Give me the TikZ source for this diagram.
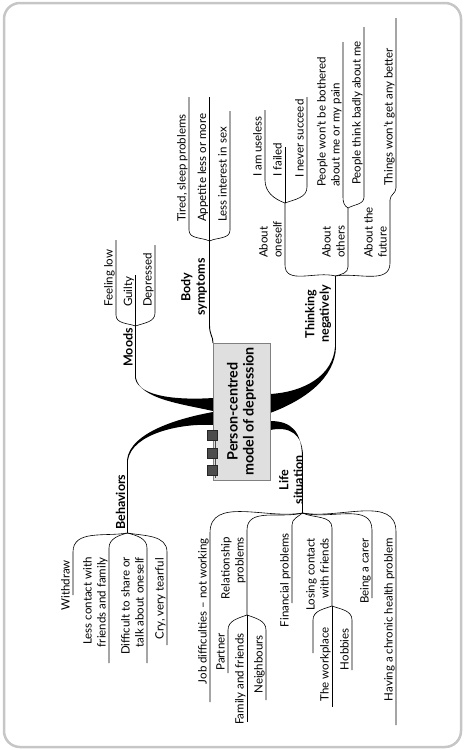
\documentclass[tikz,border=0pt]{standalone}
\usepackage{fontspec}
\setmainfont{Lato}

\begin{document}
\begin{tikzpicture}[x=1pt, y=1pt,
	leaf/.style={rotate=90, inner sep=0pt, text depth=2.5pt, font=\fontsize{11.5}{14}\selectfont},
	upleaf/.style={leaf, anchor=south west, align=left},
	downleaf/.style={leaf, anchor=south east, align=right},
	topic/.style={rotate=90, inner sep=0pt, align=center, font=\fontsize{12.5}{14.5}\selectfont\bfseries},
	rootbox/.style={rotate=90, draw=gray, fill=gray!25, line width=0.6pt, minimum width=137pt, minimum height=57pt, inner sep=0pt, align=center, font=\fontsize{14.3}{16}\selectfont\bfseries},
	tab/.style={draw=black!85, fill=black!70, minimum size=10pt, inner sep=0pt},
	twig/.style={line width=0.6pt},
	stem/.style={line width=0.9pt}]

	% frame
	\useasboundingbox (0,0) rectangle (465,-750);
	\draw[gray!45, line width=2.5pt, rounded corners=16pt] (4,-3) rectangle (461,-747);

	% junctions
	\coordinate (moods) at (135.5,-326);
	\coordinate (body) at (209.5,-241);
	\coordinate (think) at (335.5,-276);
	\coordinate (behav) at (127.5,-533);
	\coordinate (life) at (302.5,-513);
	\coordinate (oneself) at (285,-203);
	\coordinate (others) at (348,-208);
	\coordinate (future) at (390,-200);
	\coordinate (relat) at (247,-615);
	\coordinate (losing) at (332,-606);

	% main branches
	\fill (213,-398) .. controls (182,-400) and (139,-398) .. (135,-378) -- (136,-378) .. controls (140,-399) and (182,-404) .. (213,-411) -- cycle;
	\fill (213,-412) .. controls (180,-418) and (130,-432) .. (127,-460) -- (128,-460) .. controls (132,-434) and (180,-423) .. (213,-425) -- cycle;
	\fill (270,-394) .. controls (305,-392) and (333,-375) .. (335,-347) -- (336,-347) .. controls (335,-378) and (305,-400) .. (270,-413) -- cycle;
	\fill (270,-421) .. controls (292,-421) and (301,-432) .. (302,-455) -- (303,-455) .. controls (302,-434) and (290,-426) .. (270,-430) -- cycle;
	\draw[stem] (135.5,-378) -- (moods);
	\draw[stem] (127.5,-460) -- (behav);
	\draw[stem] (335.5,-347) -- (think);
	\draw[stem] (302.5,-455) -- (life);
	\draw[stem] (213,-343) .. controls (213,-336) and (209.5,-335) .. (209.5,-325) -- (body);

	% root
	\node[rootbox] (root) at (241.5,-411.5) {Person-centred\\model of depression};
	\draw[black!70] (215.5,-430) -- (215.5,-478);
	\node[tab] (taba) at (212,-435) {};
	\node[tab] (tabb) at (212,-453) {};
	\node[tab] (tabc) at (212,-470) {};

	% topics
	\node[topic, anchor=base east] (moodsl) at (132.5,-328) {Moods};
	\node[topic, anchor=base west] (behavl) at (125,-530) {Behaviors};
	\node[topic] (bodyl) at (194,-287) {Body\\symptoms};
	\node[topic] (thinkl) at (318,-314) {Thinking\\negatively};
	\node[topic] (lifel) at (291,-480) {Life\\situation};

	% body symptoms
	\draw[twig] (body) to[out=155, in=-90] (189,-230) -- (189,-97);
	\draw[twig] (body) -- (209.5,-97);
	\draw[twig] (body) to[out=25, in=-90] (230,-230) -- (230,-111);
	\node[upleaf] (tired) at (188.4,-222) {Tired, sleep problems};
	\node[upleaf] (appetite) at (208.9,-222) {Appetite less or more};
	\node[upleaf] (sex) at (229.4,-222) {Less interest in sex};

	% moods
	\draw[twig] (moods) to[out=160, in=-90] (116,-315) -- (116,-240);
	\draw[twig] (moods) -- (135.5,-275);
	\draw[twig] (moods) to[out=20, in=-90] (155,-313) -- (155,-245);
	\node[upleaf] (low) at (115.4,-307) {Feeling low};
	\node[upleaf] (guilty) at (134.9,-307) {Guilty};
	\node[upleaf] (depr) at (154.4,-307) {Depressed};

	% thinking negatively
	\draw[twig] (think) to[out=165, in=-90] (285,-265) -- (oneself);
	\draw[twig] (think) to[out=15, in=-90] (348,-267) -- (others);
	\draw[twig] (think) to[out=10, in=-90] (390,-263) -- (future);
	\draw[twig] (future) to[out=90, in=-90] (396,-188) -- (396,-18);
	\node[upleaf] (aboutself) at (284.4,-258) {About\\oneself};
	\node[upleaf] (aboutothers) at (347.4,-258) {About\\others};
	\node[upleaf] (aboutfuture) at (389.4,-258) {About the\\future};
	\node[upleaf] (better) at (395.4,-186) {Things won't get any better};

	\draw[twig] (oneself) to[out=160, in=-90] (265,-180) -- (265,-110);
	\draw[twig] (oneself) -- (285,-147);
	\draw[twig] (oneself) to[out=20, in=-90] (307,-187) -- (307,-97);
	\node[upleaf] (useless) at (264.4,-177) {I am useless};
	\node[upleaf] (failed) at (284.4,-177) {I failed};
	\node[upleaf] (succeed) at (306.4,-178) {I never succeed};

	\draw[twig] (others) to[out=150, in=-90] (343,-197) -- (343,-42);
	\draw[twig] (others) to[out=30, in=-90] (364,-197) -- (364,-27);
	\node[upleaf] (bothered) at (342.4,-187) {People won't be bothered\\about me or my pain};
	\node[upleaf] (badly) at (363.4,-185) {People think badly about me};

	% behaviors
	\draw[twig] (behav) to[out=190, in=90] (73,-552) -- (73,-595);
	\draw[twig] (behav) to[out=195, in=90] (109,-548) -- (109,-663);
	\draw[twig] (behav) to[out=-15, in=90] (147,-548) -- (147,-663);
	\draw[twig] (behav) to[out=-10, in=90] (167,-552) -- (167,-645);
	\node[downleaf] (withdraw) at (72.4,-560) {Withdraw};
	\node[downleaf] (lesscont) at (108.4,-557) {Less contact with\\friends and family};
	\node[downleaf] (share) at (146.4,-557) {Difficult to share or\\talk about oneself};
	\node[downleaf] (cry) at (166.4,-558) {Cry, very tearful};

	% life situation
	\draw[twig] (life) to[out=190, in=90] (210,-533) -- (210,-702);
	\draw[twig] (life) to[out=195, in=90] (247,-530) -- (relat);
	\draw[twig] (life) to[out=220, in=90] (292,-525) -- (292,-603);
	\draw[twig] (life) to[out=-25, in=90] (332,-528) -- (losing);
	\draw[twig] (life) to[out=-15, in=90] (372,-530) -- (372,-598);
	\draw[twig] (life) to[out=-10, in=90] (396,-532) -- (396,-725);
	\node[downleaf] (job) at (209.4,-538) {Job difficulties -- not working};
	\node[downleaf] (relation) at (246.4,-537) {Relationship\\problems};
	\node[downleaf] (financ) at (291.4,-533) {Financial problems};
	\node[downleaf] (contact) at (331.4,-538) {Losing contact\\with friends};
	\node[downleaf] (carer) at (371.4,-538) {Being a carer};
	\node[downleaf] (chronic) at (395.4,-538) {Having a chronic health problem};

	\draw[twig] (relat) to[out=200, in=90] (228,-630) -- (228,-673);
	\draw[twig] (relat) -- (247,-722);
	\draw[twig] (relat) to[out=-20, in=90] (266,-630) -- (266,-700);
	\node[downleaf] (partner) at (227.4,-633) {Partner};
	\node[downleaf] (family) at (246.4,-633) {Family and friends};
	\node[downleaf] (neighb) at (265.4,-635) {Neighbours};

	\draw[twig] (losing) to[out=200, in=90] (313,-620) -- (313,-653);
	\draw[twig] (losing) -- (332,-707);
	\draw[twig] (losing) to[out=-20, in=90] (352,-620) -- (352,-670);
	\node[downleaf] (workplace) at (331.4,-627) {The workplace};
	\node[downleaf] (hobbies) at (351.4,-628) {Hobbies};
\end{tikzpicture}
\end{document}
